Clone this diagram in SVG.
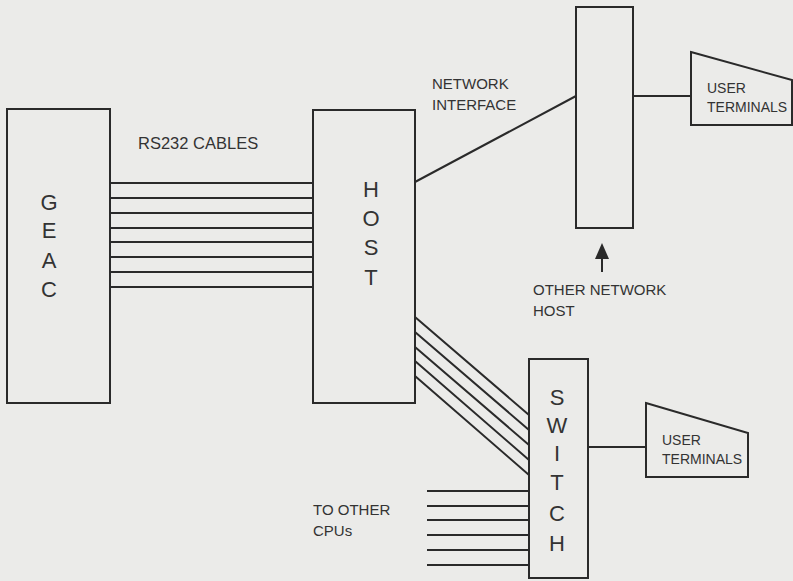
<svg xmlns="http://www.w3.org/2000/svg" width="793" height="581" viewBox="0 0 793 581">
<style>
.box{fill:none;stroke:#2a2a2a;stroke-width:2}
.ln{fill:none;stroke:#2a2a2a;stroke-width:2}
.lbl{font-family:"Liberation Sans",Arial,sans-serif;font-size:15px;fill:#333}
.big{font-family:"Liberation Sans",Arial,sans-serif;font-size:22px;fill:#333;text-anchor:middle}
</style>
<rect width="793" height="581" fill="#ebebe9"/>
<g id="geac">
<rect class="box" x="7" y="109" width="103" height="294"/>
<text class="big" x="49" y="210">G</text>
<text class="big" x="49" y="238">E</text>
<text class="big" x="49" y="268">A</text>
<text class="big" x="49" y="297">C</text>
</g>
<g id="host">
<rect class="box" x="313" y="110" width="102" height="293"/>
<text class="big" x="371" y="197">H</text>
<text class="big" x="371" y="226">O</text>
<text class="big" x="371" y="255">S</text>
<text class="big" x="371" y="285">T</text>
</g>
<g id="network-interface">
<rect class="box" x="576" y="7" width="57" height="221"/>
</g>
<g id="user-terminals-1">
<polygon class="box" points="691,52 792,80 792,125 691,125"/>
<text class="lbl" x="707" y="93" style="font-size:14px">USER</text>
<text class="lbl" x="707" y="112" style="font-size:14px">TERMINALS</text>
</g>
<g id="switch">
<rect class="box" x="529" y="359" width="59" height="219"/>
<text class="big" x="557" y="405">S</text>
<text class="big" x="557" y="433">W</text>
<text class="big" x="557" y="461">I</text>
<text class="big" x="557" y="490">T</text>
<text class="big" x="557" y="521">C</text>
<text class="big" x="557" y="551">H</text>
</g>
<g id="user-terminals-2">
<polygon class="box" points="646,403 748,433 748,477 646,477"/>
<text class="lbl" x="662" y="445" style="font-size:14px">USER</text>
<text class="lbl" x="662" y="464" style="font-size:14px">TERMINALS</text>
</g>
<g id="labels">
<text class="lbl" x="138" y="149" style="font-size:16.5px">RS232 CABLES</text>
<text class="lbl" x="432" y="89">NETWORK</text>
<text class="lbl" x="432" y="110">INTERFACE</text>
<text class="lbl" x="533" y="295">OTHER NETWORK</text>
<text class="lbl" x="533" y="316">HOST</text>
<text class="lbl" x="313" y="515">TO OTHER</text>
<text class="lbl" x="313" y="536">CPUs</text>
</g>
<g id="connectors">
<path class="ln" d="M110 183H313M110 198H313M110 213H313M110 228H313M110 242H313M110 257H313M110 272H313M110 287H313"/>
<path class="ln" d="M415 182L576 96M633 96H691"/>
<path class="ln" d="M415 317L529 415M415 332L529 430M415 347L529 445M415 361L529 460M415 376L529 475"/>
<path class="ln" d="M427 491H529M427 506H529M427 520H529M427 535H529M427 550H529M427 565H529"/>
<path class="ln" d="M588 447H646"/>
<path class="ln" d="M602 258V272"/>
<polygon points="602,243 595,259 609,259" fill="#2a2a2a"/>
</g>
</svg>
